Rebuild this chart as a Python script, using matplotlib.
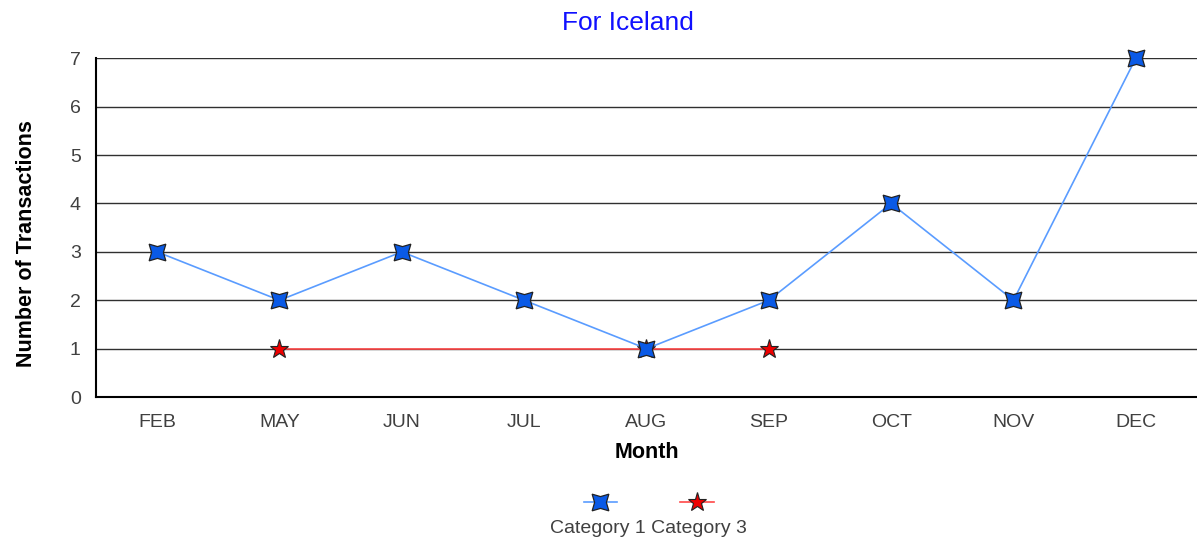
import numpy as np
import matplotlib.pyplot as plt
from matplotlib.lines import Line2D

plt.rcParams['font.family'] = ['Liberation Sans', 'DejaVu Sans']

# data
months = ['FEB', 'MAY', 'JUN', 'JUL', 'AUG', 'SEP', 'OCT', 'NOV', 'DEC']
cat1 = [3, 2, 3, 2, 1, 2, 4, 2, 7]
cat3_months = ['MAY', 'AUG', 'SEP']
cat3 = [1, 1, 1]

fig = plt.figure(figsize=(11.97, 5.44), dpi=100)
ax = fig.add_axes([0.0802, 0.270, 0.9198, 0.623])

x1 = np.arange(len(months))
x3 = [months.index(m) for m in cat3_months]

# category 3 under category 1
ax.plot(x3, cat3, color='#ff4848', lw=1.2, marker='*', ms=14,
        mfc='#ee0000', mec='#222222', mew=0.8, zorder=3, clip_on=False)
ax.plot(x1, cat1, color='#5a9cff', lw=1.2, marker=(4, 1, 45), ms=17,
        mfc='#0a5ae6', mec='#222222', mew=0.9, zorder=4, clip_on=False)

ax.set_xlim(-0.5, len(months) - 0.5)
ax.set_ylim(0, 7)
ax.set_xticks(x1)
ax.set_xticklabels(months)
ax.set_yticks(range(8))
ax.tick_params(length=0, labelsize=14, labelcolor='#404040')
ax.tick_params(axis='x', pad=12)
ax.tick_params(axis='y', pad=11)

ax.grid(axis='y', color='#303030', lw=1.0)
ax.set_axisbelow(True)
for s in ['top', 'right']:
    ax.spines[s].set_visible(False)
ax.spines['left'].set_linewidth(1.5)
ax.spines['bottom'].set_linewidth(1.5)

fig.text(0.525, 0.957, 'For Iceland', color='#1010ff', fontsize=19,
         ha='center', va='center')
ax.set_xlabel('Month', fontsize=15.5, fontweight='bold', labelpad=8)
ax.set_ylabel('Number of Transactions', fontsize=15.5, fontweight='bold')
ax.yaxis.set_label_coords(-0.054, 0.453)

# legend: markers above, names below
h1 = Line2D([], [], color='#5a9cff', lw=1.2, marker=(4, 1, 45), ms=17,
            mfc='#0a5ae6', mec='#222222', mew=0.9)
h3 = Line2D([], [], color='#ff4848', lw=1.2, marker='*', ms=14,
            mfc='#ee0000', mec='#222222', mew=0.8)
fig.legend([h1, h3], ['', ''], ncol=2, loc='center', bbox_to_anchor=(0.542, 0.075),
           frameon=False, fontsize=12, handlelength=2.0, handletextpad=0,
           columnspacing=3.8)
fig.text(0.542, 0.029, 'Category 1 Category 3', ha='center', va='center',
         fontsize=14, color='#404040')

fig.savefig('out.png', dpi=100)
